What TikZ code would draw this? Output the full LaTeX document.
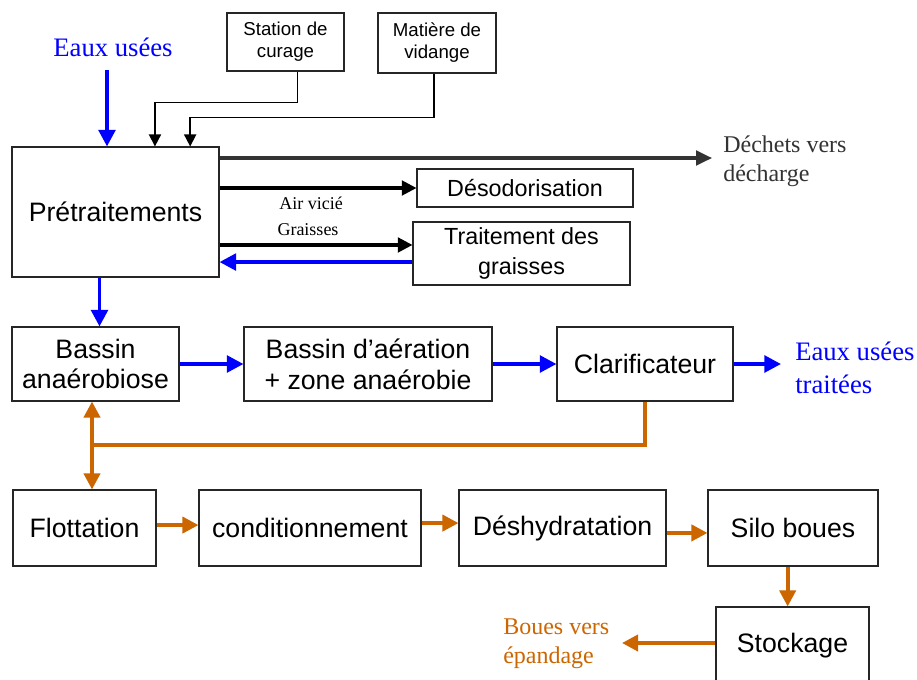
\documentclass[tikz,border=0pt]{standalone}
\usepackage{tikz}
\usepackage{xcolor}
\usepackage{fontspec}
\setmainfont{Liberation Serif}
\setsansfont{Liberation Sans}
\usetikzlibrary{arrows.meta, calc, positioning}
\definecolor{eaubleu}{HTML}{0000FF}
\definecolor{boueorange}{HTML}{CC6600}
\definecolor{dechetgris}{HTML}{333333}
\tikzset{
  %process box style
  etape/.style 2 args={
    draw=black!85
    , fill=white
    , line width=0.8pt
    , anchor=center
    , align=center
    , font=\sffamily\fontsize{20}{23}\selectfont
    , minimum width=#1*0.75pt
    , minimum height=#2*0.75pt
    , inner sep=1pt
    %, rounded corners
  },
  petite/.style={
    font=\sffamily\fontsize{14}{16.5}\selectfont
  },
  moyenne/.style={
    font=\sffamily\fontsize{17.5}{22}\selectfont
  },
  %free text style
  legende/.style={
    inner sep=0pt
    , align=left
    , font=\rmfamily\fontsize{18}{22}\selectfont
  },
  %arrow styles
  flux/.style={
    draw=eaubleu
    , line width=2.8pt
    , -{Triangle[length=12.5pt, width=12.5pt]}
  },
  liaison/.style={
    draw=black
    , line width=2.3pt
    , -{Triangle[length=11pt, width=11pt]}
  },
  apport/.style={
    draw=black
    , line width=1.3pt
    , -{Triangle[length=9pt, width=9pt]}
  },
  rejet/.style={
    draw=dechetgris
    , line width=2.3pt
    , -{Triangle[length=12pt, width=11pt]}
  },
  boue/.style={
    draw=boueorange
    , line width=2.8pt
    , -{Triangle[length=12pt, width=12pt]}
  },
}

\begin{document}
\begin{tikzpicture}[x=0.75pt, y=-0.75pt]
  \path[use as bounding box, fill=white] (0,0) rectangle (917,679);

  % pretreatment
  \node[etape={207}{130}] (pre) at (115.5,212) {Prétraitements};
  \node[etape={117}{58}, petite] (stat) at (285.5,42) {Station de\\curage};
  \node[etape={118}{60}, petite] (mat) at (437,43) {Matière de\\vidange};
  \node[etape={216}{38}, moyenne] (deso) at (525,188) {Désodorisation};
  \node[etape={217}{63}, moyenne] (tgr) at (521.5,253.5) {Traitement des\\graisses};

  % water line
  \node[etape={167}{74}] (ban) at (95.5,364) {Bassin\\anaérobiose};
  \node[etape={248}{74}] (bae) at (368,364) {Bassin d’aération\\+ zone anaérobie};
  \node[etape={176}{74}] (cla) at (645,364) {Clarificateur};

  % sludge line
  \node[etape={143}{76}] (flo) at (84.5,528) {Flottation};
  \node[etape={222}{76}] (con) at (310,528) {conditionnement};
  \node[etape={207}{76}] (des) at (562.5,528) {Déshydratation};
  \node[etape={170}{76}] (silo) at (793,528) {Silo boues};
  \node[etape={153}{78}] (sto) at (792.5,646) {Stockage};

  % labels
  \node[legende, text=eaubleu, font=\rmfamily\fontsize{20}{24}\selectfont] (eaux) at (113,47) {Eaux usées};
  \node[legende, text=dechetgris, anchor=west] (dechets) at (723,161) {Déchets vers\\décharge};
  \node[legende, font=\rmfamily\fontsize{13.5}{16}\selectfont] (air) at (311,203) {Air vicié};
  \node[legende, font=\rmfamily\fontsize{13.5}{16}\selectfont] (gr) at (308,230) {Graisses};
  \node[legende, text=eaubleu, anchor=west, font=\rmfamily\fontsize{20}{25}\selectfont] (sortie) at (795,368) {Eaux usées\\traitées};
  \node[legende, text=boueorange, anchor=west] (boues) at (503,644) {Boues vers\\épandage};

  % free ends
  \coordinate (entree) at (107,70);
  \coordinate (dech) at (712,158);
  \coordinate (rejeteau) at (781,364);
  \coordinate (retour) at (92,445);
  \coordinate (epand) at (622,643);

  % connectors
  \draw[flux] (entree) -- (entree |- pre.north);
  \draw[apport] ([xshift=9pt]stat.south) -- ++(0,31) -| ([xshift=29.6pt]pre.north);
  \draw[apport] ([xshift=-2.2pt]mat.south) -- ++(0,44) -| ([xshift=56pt]pre.north);
  \draw[rejet] (pre.east |- dech) -- (dech);
  \draw[liaison] (pre.east |- deso) -- (deso.west);
  \draw[liaison] ([yshift=6.4pt]tgr.west -| pre.east) -- ([yshift=6.4pt]tgr.west);
  \draw[flux] ([yshift=-6.4pt]tgr.west) -- ([yshift=-6.4pt]tgr.west -| pre.east);
  \draw[flux] ([xshift=3pt]ban.north |- pre.south) -- ([xshift=3pt]ban.north);
  \draw[flux] (ban) -- (bae);
  \draw[flux] (bae) -- (cla);
  \draw[flux] (cla) -- (rejeteau);

  % recirculation
  \draw[boue, -] (cla.south) |- (retour);
  \draw[boue] (retour) -- (retour |- ban.south);
  \draw[boue] (retour) -- (retour |- flo.north);
  \draw[boue] ([yshift=2.2pt]flo.east) -- ([yshift=2.2pt]con.west);
  \draw[boue] ([yshift=3.7pt]con.east) -- ([yshift=3.7pt]des.west);
  \draw[boue] ([yshift=-3.7pt]des.east) -- ([yshift=-3.7pt]silo.west);
  \draw[boue] ([xshift=-4pt]silo.south) -- ([xshift=-4pt]silo.south |- sto.north);
  \draw[boue] (sto.west |- epand) -- (epand);
\end{tikzpicture}
\end{document}
